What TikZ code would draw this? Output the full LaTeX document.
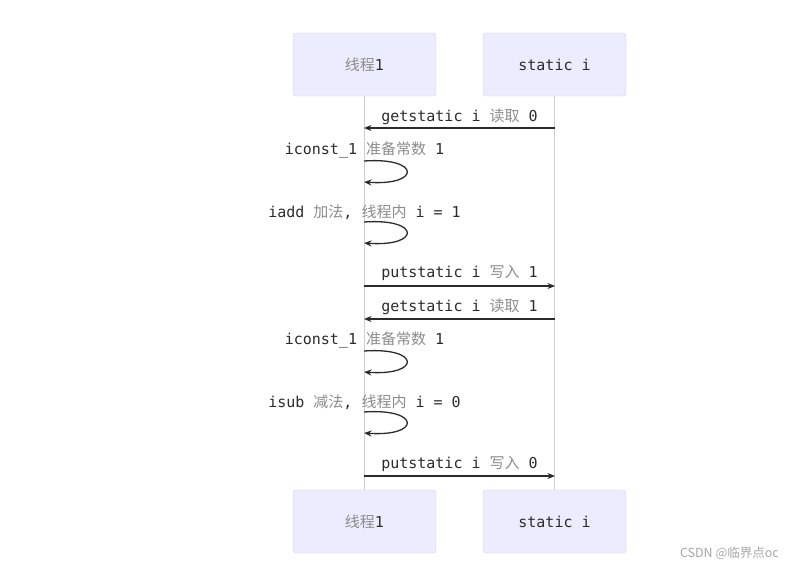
\documentclass[tikz,border=0pt]{standalone}
\usepackage{fontspec}
\setmainfont{DejaVu Sans Mono}
\newfontfamily\cjk{Noto Sans CJK SC}
\usetikzlibrary{arrows.meta}

\definecolor{boxfill}{HTML}{ECECFF}
\definecolor{boxline}{HTML}{D3D3F2}
\definecolor{lifegray}{HTML}{CFCFCF}
\definecolor{msgdark}{HTML}{2B2B2B}
\definecolor{cngray}{HTML}{8C8C8C}
\newcommand{\cn}[1]{{\cjk\color{cngray}#1}}

\begin{document}
\begin{tikzpicture}[x=1pt,y=-1pt,
    actor/.style={draw=boxline, fill=boxfill, rounded corners=3pt,
      minimum width=143pt, minimum height=63pt, text=msgdark,
      font=\fontsize{15}{17}\selectfont},
    life/.style={draw=lifegray, line width=0.8pt},
    msg/.style={draw=msgdark, line width=1.3pt, -{Stealth[length=7.5pt,width=6pt]}},
    lbl/.style={text=msgdark, inner sep=0pt, font=\fontsize{15}{17}\selectfont}]

  \useasboundingbox (0,0) rectangle (787,567);

  % participants
  \node[actor] (thr)  at (364.5,64.5)  {\cn{线程}1};
  \node[actor] (stat) at (554.5,64.5)  {static i};
  \node[actor] (thrb)  at (364.5,521.5) {\cn{线程}1};
  \node[actor] (statb) at (554.5,521.5) {static i};

  \draw[life] (thr) -- (thrb);
  \draw[life] (stat) -- (statb);

  % messages between the lifelines
  \coordinate (t1) at (364,128);  \coordinate (s1) at (555,128);
  \coordinate (t2) at (364,286);  \coordinate (s2) at (555,286);
  \coordinate (t3) at (364,319);  \coordinate (s3) at (555,319);
  \coordinate (t4) at (364,476);  \coordinate (s4) at (555,476);

  \draw[msg] (s1) -- (t1);
  \draw[msg] (t2) -- (s2);
  \draw[msg] (s3) -- (t3);
  \draw[msg] (t4) -- (s4);

  \node[lbl] (m1) at (459.5,117) {getstatic i \cn{读取} 0};
  \node[lbl] (m2) at (459.5,273) {putstatic i \cn{写入} 1};
  \node[lbl] (m3) at (459.5,307) {getstatic i \cn{读取} 1};
  \node[lbl] (m4) at (459.5,464) {putstatic i \cn{写入} 0};

  % self calls on the thread
  \foreach \k/\y in {1/161, 2/222, 3/351, 4/412} {
    \coordinate (la\k) at (364,\y);
    \coordinate (lb\k) at (364,\y+21);
    \draw[msg] (la\k) .. controls (421,\y-4) and (421,\y+25) .. (lb\k);
  }

  \node[lbl] (c1) at (364.5,150) {iconst\_1 \cn{准备常数} 1};
  \node[lbl] (c2) at (364.5,212) {iadd \cn{加法}, \cn{线程内} i = 1};
  \node[lbl] (c3) at (364.5,340) {iconst\_1 \cn{准备常数} 1};
  \node[lbl] (c4) at (364.5,402) {isub \cn{减法}, \cn{线程内} i = 0};

  % watermark
  \node[anchor=east, inner sep=0pt, text=black!35, font=\cjk\fontsize{12.5}{14}\selectfont]
    (wm) at (779,553) {CSDN @临界点oc};
\end{tikzpicture}
\end{document}
